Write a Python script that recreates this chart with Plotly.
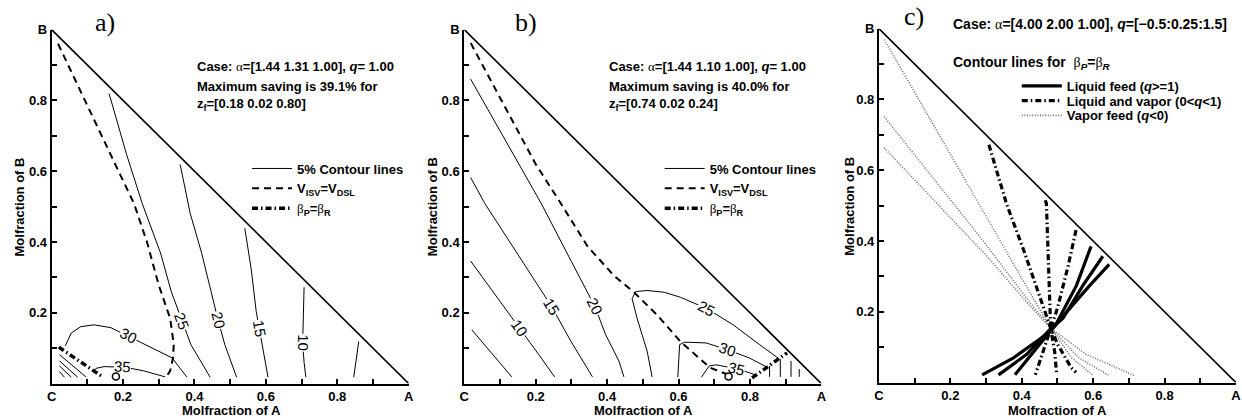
import plotly.graph_objects as go

W, H = 1242, 419

# ---------------- data ----------------
TRI_X = [0.0, 1.0]
TRI_Y = [1.0, 0.0]

X_TICKS = [0.0, 0.2, 0.4, 0.6, 0.8, 1.0]
X_TICK_TEXT = ["C", "0.2", "0.4", "0.6", "0.8", "A"]
Y_TICKS = [0.2, 0.4, 0.6, 0.8, 1.0]
Y_TICK_TEXT = ["0.2", "0.4", "0.6", "0.8", "B"]
MINOR_TICKS = [0.1, 0.3, 0.5, 0.7, 0.9]

# ---- panel a : alpha=[1.44 1.31 1.00] ----
A_C5_X = [0.860, 0.846]
A_C5_Y = [0.119, 0.018]
A_C10_X = [0.707, 0.705, 0.703, 0.707, 0.712]
A_C10_Y = [0.272, 0.200, 0.115, 0.060, 0.018]
A_C15_X = [0.541, 0.559, 0.573, 0.582, 0.606]
A_C15_Y = [0.439, 0.323, 0.203, 0.153, 0.018]
A_C20_X = [0.360, 0.388, 0.420, 0.453, 0.466, 0.485, 0.518]
A_C20_Y = [0.619, 0.481, 0.369, 0.231, 0.180, 0.110, 0.018]
A_C25_X = [0.161, 0.210, 0.254, 0.305, 0.335, 0.365, 0.390, 0.444]
A_C25_Y = [0.819, 0.647, 0.508, 0.369, 0.260, 0.175, 0.110, 0.018]
A_C30_X = [0.038, 0.055, 0.082, 0.119, 0.166, 0.217, 0.268, 0.337, 0.379]
A_C30_Y = [0.106, 0.143, 0.161, 0.166, 0.158, 0.133, 0.106, 0.073, 0.018]
A_C35_X = [0.119, 0.124, 0.147, 0.175, None, 0.222, 0.258, 0.318]
A_C35_Y = [0.036, 0.043, 0.048, 0.047, None, 0.043, 0.036, 0.019]
A_HATCH_X = [0.022, 0.096, None, 0.022, 0.073, None, 0.022, 0.055, None, 0.022, 0.036]
A_HATCH_Y = [0.082, 0.019, None, 0.064, 0.018, None, 0.050, 0.018, None, 0.034, 0.018]
A_DASH_X = [0.018, 0.075, 0.130, 0.185, 0.231, 0.267, 0.300, 0.332, 0.342, 0.340, 0.332, 0.321]
A_DASH_Y = [0.960, 0.838, 0.718, 0.605, 0.508, 0.400, 0.278, 0.184, 0.111, 0.073, 0.036, 0.019]
A_BETA_X = [0.020, 0.143]
A_BETA_Y = [0.103, 0.019]
A_OPT_X = [0.18]
A_OPT_Y = [0.02]
A_LAB_TXT = ["25", "20", "15", "10", "30", "35"]
A_LAB_X = [0.365, 0.466, 0.582, 0.703, 0.215, 0.198]
A_LAB_Y = [0.175, 0.180, 0.155, 0.115, 0.135, 0.047]
A_LAB_ANG = [70, 76, 80, 90, 27, 3]
A_LAB_MASK = [True, True, True, True, True, False]

# ---- panel b : alpha=[1.44 1.10 1.00] ----
B_C5_X = [0.021, 0.133]
B_C5_Y = [0.152, 0.019]
B_C10_X = [0.018, 0.080, 0.156, 0.210, 0.253]
B_C10_Y = [0.346, 0.261, 0.156, 0.080, 0.019]
B_C15_X = [0.018, 0.058, 0.150, 0.245, 0.299, 0.359]
B_C15_Y = [0.582, 0.508, 0.365, 0.217, 0.119, 0.019]
B_C20_X = [0.018, 0.100, 0.216, 0.300, 0.366, 0.396, 0.433, 0.447]
B_C20_Y = [0.860, 0.714, 0.508, 0.345, 0.217, 0.138, 0.064, 0.019]
B_C25_X = [0.526, 0.512, 0.484, 0.470, 0.480, 0.512, 0.560, 0.605, 0.679, 0.753, 0.827, 0.883]
B_C25_Y = [0.019, 0.092, 0.184, 0.240, 0.260, 0.263, 0.258, 0.244, 0.212, 0.166, 0.110, 0.069]
B_C30_X = [0.598, 0.601, 0.603, 0.617, 0.677, 0.738, 0.797, 0.847]
B_C30_Y = [0.018, 0.064, 0.110, 0.117, 0.115, 0.095, 0.073, 0.047]
B_C35_X = [0.664, 0.686, 0.705, 0.737, None, 0.785, 0.812]
B_C35_Y = [0.018, 0.050, 0.053, 0.047, None, 0.035, 0.026]
B_VERT_X = [0.855, 0.855, None, 0.885, 0.885, None, 0.915, 0.915, None, 0.938, 0.938]
B_VERT_Y = [0.050, 0.019, None, 0.069, 0.019, None, 0.064, 0.019, None, 0.041, 0.019]
B_DASH_X = [0.018, 0.130, 0.200, 0.271, 0.345, 0.419, 0.475, 0.540, 0.605, 0.688, 0.734]
B_DASH_Y = [0.962, 0.749, 0.620, 0.508, 0.388, 0.305, 0.258, 0.194, 0.119, 0.045, 0.027]
B_BETA_X = [0.806, 0.904]
B_BETA_Y = [0.016, 0.087]
B_OPT_X = [0.74]
B_OPT_Y = [0.02]
B_LAB_TXT = ["10", "15", "20", "25", "30", "35"]
B_LAB_X = [0.156, 0.244, 0.366, 0.679, 0.738, 0.761]
B_LAB_Y = [0.156, 0.217, 0.217, 0.212, 0.095, 0.043]
B_LAB_ANG = [55, 58, 64, 28, 19, 14]
B_LAB_MASK = [True, True, True, True, True, False]

# ---- panel c : alpha=[4.00 2.00 1.00], beta_P = beta_R for several q ----
C_L1_X = [0.289, 0.377, 0.442, 0.479, 0.497, 0.553, 0.594]
C_L1_Y = [0.022, 0.070, 0.117, 0.144, 0.167, 0.274, 0.385]
C_L2_X = [0.335, 0.414, 0.479, 0.515, 0.571, 0.627]
C_L2_Y = [0.022, 0.080, 0.150, 0.181, 0.274, 0.357]
C_L3_X = [0.381, 0.442, 0.479, 0.534, 0.590, 0.645]
C_L3_Y = [0.022, 0.098, 0.144, 0.209, 0.274, 0.334]
C_D1_X = [0.308, 0.357, 0.408, 0.455, 0.481, 0.501, 0.538, 0.552]
C_D1_Y = [0.672, 0.506, 0.367, 0.228, 0.154, 0.107, 0.043, 0.029]
C_D2_X = [0.466, 0.469, 0.475, 0.481, 0.492, 0.498]
C_D2_Y = [0.515, 0.506, 0.330, 0.154, 0.089, 0.022]
C_D3_X = [0.552, 0.530, 0.500, 0.481, 0.460, 0.438]
C_D3_Y = [0.431, 0.330, 0.210, 0.154, 0.090, 0.022]
C_V1_X = [0.015, 0.100, 0.200, 0.300, 0.400, 0.480, 0.540, 0.600]
C_V1_Y = [0.969, 0.820, 0.645, 0.470, 0.295, 0.155, 0.070, 0.020]
C_V2_X = [0.015, 0.150, 0.300, 0.420, 0.480, 0.560, 0.645]
C_V2_Y = [0.751, 0.580, 0.390, 0.230, 0.155, 0.070, 0.020]
C_V3_X = [0.015, 0.150, 0.300, 0.420, 0.480, 0.580, 0.715]
C_V3_Y = [0.663, 0.520, 0.360, 0.220, 0.155, 0.080, 0.020]

# ---------------- styling ----------------
FONT = "Liberation Sans, Arial, sans-serif"
SERIF = "Liberation Serif, Times New Roman, serif"
GREEK = "<span style=\"font-family:'Liberation Serif';font-weight:normal\">%s</span>"
BETA_DASH = "6px,3px,1.5px,3px"
DOT_DASH = "1px,1.6px"
DOT_COLOR = "#6e6e6e"

fig = go.Figure()


def add_line(panel, x, y, width=1.0, dash="solid", color="black", name=None, legend=None, rank=None):
    sfx = "" if panel == 1 else str(panel)
    fig.add_trace(go.Scatter(
        x=x, y=y, mode="lines", xaxis="x" + sfx, yaxis="y" + sfx,
        line=dict(color=color, width=width, dash=dash),
        name=name if name else "", showlegend=name is not None,
        legend=legend if legend else "legend", legendrank=rank if rank else 1000,
        hoverinfo="skip", connectgaps=False))


def add_marker(panel, x, y):
    sfx = "" if panel == 1 else str(panel)
    fig.add_trace(go.Scatter(
        x=x, y=y, mode="markers", xaxis="x" + sfx, yaxis="y" + sfx,
        marker=dict(symbol="circle-open", size=7, color="black", line=dict(width=1.5, color="black")),
        showlegend=False, cliponaxis=False, hoverinfo="skip"))


BETA_NAME = "<b>" + GREEK % "β" + "<sub>P</sub>=" + GREEK % "β" + "<sub>R</sub></b>"
V_NAME = "<b>V<sub>ISV</sub>=V<sub>DSL</sub></b>"

# panel a
add_line(1, TRI_X, TRI_Y, width=1.6)
add_line(1, A_C25_X, A_C25_Y, name="<b>5% Contour lines</b>", legend="legend", rank=1)
for xs, ys in [(A_C5_X, A_C5_Y), (A_C10_X, A_C10_Y), (A_C15_X, A_C15_Y), (A_C20_X, A_C20_Y),
               (A_C30_X, A_C30_Y), (A_C35_X, A_C35_Y), (A_HATCH_X, A_HATCH_Y)]:
    add_line(1, xs, ys)
add_line(1, A_DASH_X, A_DASH_Y, width=2, dash="7px,5px", name=V_NAME, legend="legend", rank=2)
add_line(1, A_BETA_X, A_BETA_Y, width=3.5, dash=BETA_DASH, name=BETA_NAME, legend="legend", rank=3)
add_marker(1, A_OPT_X, A_OPT_Y)

# panel b
add_line(2, TRI_X, TRI_Y, width=1.6)
add_line(2, B_C20_X, B_C20_Y, name="<b>5% Contour lines</b>", legend="legend2", rank=1)
for xs, ys in [(B_C5_X, B_C5_Y), (B_C10_X, B_C10_Y), (B_C15_X, B_C15_Y), (B_C25_X, B_C25_Y),
               (B_C30_X, B_C30_Y), (B_C35_X, B_C35_Y), (B_VERT_X, B_VERT_Y)]:
    add_line(2, xs, ys)
add_line(2, B_DASH_X, B_DASH_Y, width=2, dash="7px,5px", name=V_NAME, legend="legend2", rank=2)
add_line(2, B_BETA_X, B_BETA_Y, width=3.5, dash=BETA_DASH, name=BETA_NAME, legend="legend2", rank=3)
add_marker(2, B_OPT_X, B_OPT_Y)

# panel c (one legend box per entry so the rows can sit close together)
add_line(3, TRI_X, TRI_Y, width=1.6)
add_line(3, C_V1_X, C_V1_Y, width=1.6, dash=DOT_DASH, color=DOT_COLOR,
         name="<b>Vapor feed (<i>q</i><0)</b>", legend="legend5")
add_line(3, C_V2_X, C_V2_Y, width=1.6, dash=DOT_DASH, color=DOT_COLOR)
add_line(3, C_V3_X, C_V3_Y, width=1.6, dash=DOT_DASH, color=DOT_COLOR)
add_line(3, C_D1_X, C_D1_Y, width=3.2, dash=BETA_DASH,
         name="<b>Liquid and vapor (0<<i>q</i><1)</b>", legend="legend4")
add_line(3, C_D2_X, C_D2_Y, width=3.2, dash=BETA_DASH)
add_line(3, C_D3_X, C_D3_Y, width=3.2, dash=BETA_DASH)
add_line(3, C_L1_X, C_L1_Y, width=3.2, name="<b>Liquid feed (<i>q</i>>=1)</b>", legend="legend3")
add_line(3, C_L2_X, C_L2_Y, width=3.2)
add_line(3, C_L3_X, C_L3_Y, width=3.2)

# ---------------- axes ----------------
PANEL_X = [(47, 407), (463, 823), (881, 1241)]
PANEL_Y = [(383, 23), (383, 23), (382, 22)]

tickfont = dict(family=FONT, size=13, color="black", weight="bold")
layout = dict(
    width=W, height=H, margin=dict(l=0, r=0, t=0, b=0),
    paper_bgcolor="white", plot_bgcolor="white", showlegend=True,
    font=dict(family=FONT, size=13, color="black"),
)
for i in range(3):
    sfx = "" if i == 0 else str(i + 1)
    x0, x1 = PANEL_X[i]
    yb, yt = PANEL_Y[i]
    layout["xaxis" + sfx] = dict(
        domain=[x0 / W, x1 / W], range=[0, 1], anchor="y" + sfx,
        showline=True, linewidth=2, linecolor="black", showgrid=False, zeroline=False,
        ticks="inside", ticklen=5, tickwidth=1.5, tickcolor="black",
        tickmode="array", tickvals=X_TICKS, ticktext=X_TICK_TEXT, tickfont=tickfont,
        minor=dict(tickmode="array", tickvals=MINOR_TICKS, ticks="inside", ticklen=5,
                   tickwidth=1.5, tickcolor="black", showgrid=False),
        fixedrange=True)
    layout["yaxis" + sfx] = dict(
        domain=[1 - yb / H, 1 - yt / H], range=[0, 1], anchor="x" + sfx,
        showline=True, linewidth=2, linecolor="black", showgrid=False, zeroline=False,
        ticks="inside", ticklen=5, tickwidth=1.5, tickcolor="black",
        tickmode="array", tickvals=Y_TICKS, ticktext=Y_TICK_TEXT, tickfont=tickfont,
        minor=dict(tickmode="array", tickvals=MINOR_TICKS, ticks="inside", ticklen=5,
                   tickwidth=1.5, tickcolor="black", showgrid=False),
        fixedrange=True)

legfont = dict(family=FONT, size=13, color="black")


def leg(px, py_top, iw=40):
    return dict(x=px / W, y=1 - py_top / H, xanchor="left", yanchor="top",
                bgcolor="rgba(0,0,0,0)", font=legfont, tracegroupgap=0, itemwidth=iw)


layout["legend"] = leg(244, 149)
layout["legend2"] = leg(660, 149)
layout["legend3"] = leg(1020, 65)
layout["legend4"] = leg(1020, 80)
layout["legend5"] = leg(1020, 95)

fig.update_layout(**layout)

# ---------------- annotations ----------------
ann = []


def ptext(px, py, text, size=13, family=FONT, xanchor="left", angle=0):
    ann.append(dict(x=px / W, y=1 - py / H, xref="paper", yref="paper", text=text, showarrow=False,
                    xanchor=xanchor, yanchor="middle", textangle=angle, align=xanchor if xanchor != "center" else "center",
                    font=dict(family=family, size=size, color="black")))


# panel letters
ptext(101, 16, "a)", size=26, family=SERIF, xanchor="center")
ptext(525, 16, "b)", size=26, family=SERIF, xanchor="center")
ptext(916, 10, "c)", size=26, family=SERIF, xanchor="center")

A_ = GREEK % "α"
ptext(192, 61, "<b>Case: </b>" + A_ + "<b>=[1.44 1.31 1.00], <i>q</i>= 1.00</b>")
ptext(192, 91, "<b>Maximum saving is 39.1% for<br>z<sub>f</sub>=[0.18 0.02 0.80]</b>")

ptext(607, 61, "<b>Case: </b>" + A_ + "<b>=[1.44 1.10 1.00], <i>q</i>= 1.00</b>")
ptext(607, 91, "<b>Maximum saving is 40.0% for<br>z<sub>f</sub>=[0.74 0.02 0.24]</b>")

ptext(954, 17, "<b>Case: </b>" + A_ + "<b>=[4.00 2.00 1.00], <i>q</i>=[−0.5:0.25:1.5]</b>", size=14)
ptext(954, 57, "<b>Contour lines for  </b>" + GREEK % "β" + "<sub><b><i>P</i></b></sub><b>=</b>"
      + GREEK % "β" + "<sub><b><i>R</i></b></sub>", size=14)

# axis titles
for cx, cy in [(228, 410), (644, 410), (1061, 410)]:
    ptext(cx, cy, "<b>Molfraction of A</b>", xanchor="center")
for cx in [15, 431, 851]:
    ptext(cx, 203, "<b>Molfraction of B</b>", xanchor="center", angle=-90)

# contour labels
for sfx, txts, xs, ys, angs, masks in [
        ("", A_LAB_TXT, A_LAB_X, A_LAB_Y, A_LAB_ANG, A_LAB_MASK),
        ("2", B_LAB_TXT, B_LAB_X, B_LAB_Y, B_LAB_ANG, B_LAB_MASK)]:
    for t, x, y, a, m in zip(txts, xs, ys, angs, masks):
        ann.append(dict(x=x, y=y, xref="x" + sfx, yref="y" + sfx, text=t, showarrow=False,
                        textangle=a, bgcolor="white" if m else "rgba(0,0,0,0)",
                        borderpad=0, height=13,
                        font=dict(family=FONT, size=15, color="black")))

fig.update_layout(annotations=ann)
fig.write_html("out.html")
